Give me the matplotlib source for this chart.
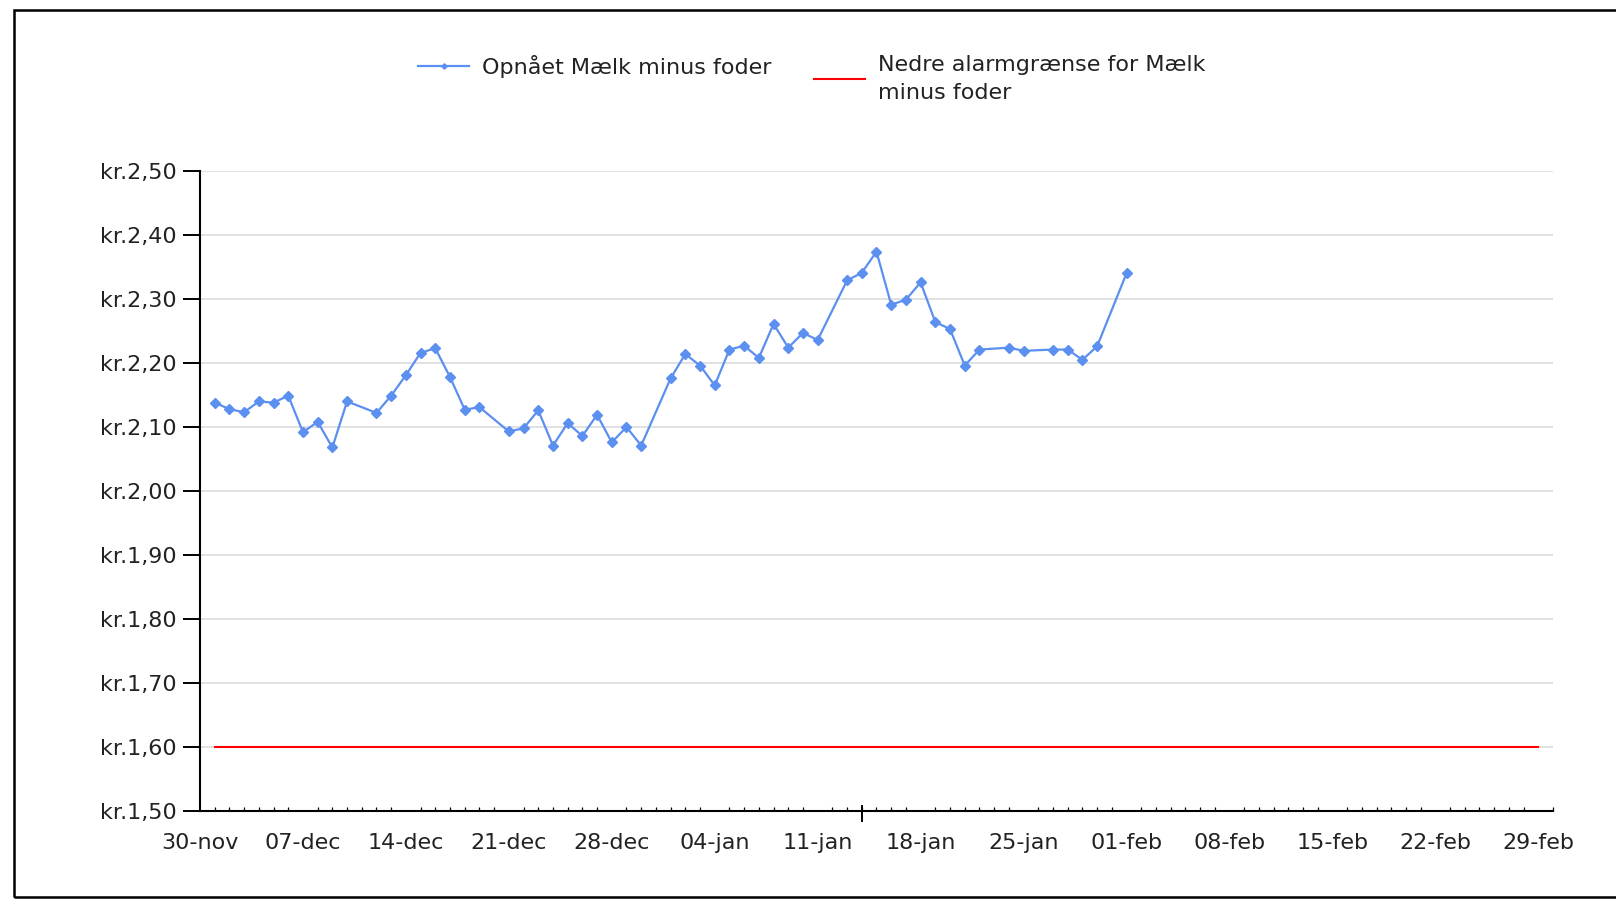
import numpy as np
import pandas as pd
import matplotlib
matplotlib.use("Agg")
import matplotlib.pyplot as plt
import matplotlib.dates as mdates
from matplotlib.patches import Rectangle
from matplotlib.ticker import FuncFormatter

# data
dates = ["2015-12-01", "2015-12-02", "2015-12-03", "2015-12-04", "2015-12-05", "2015-12-06",
         "2015-12-07", "2015-12-08", "2015-12-09", "2015-12-10", "2015-12-12", "2015-12-13",
         "2015-12-14", "2015-12-15", "2015-12-16", "2015-12-17", "2015-12-18", "2015-12-19",
         "2015-12-21", "2015-12-22", "2015-12-23", "2015-12-24", "2015-12-25", "2015-12-26",
         "2015-12-27", "2015-12-28", "2015-12-29", "2015-12-30", "2016-01-01", "2016-01-02",
         "2016-01-03", "2016-01-04", "2016-01-05", "2016-01-06", "2016-01-07", "2016-01-08",
         "2016-01-09", "2016-01-10", "2016-01-11", "2016-01-13", "2016-01-14", "2016-01-15",
         "2016-01-16", "2016-01-17", "2016-01-18", "2016-01-19", "2016-01-20", "2016-01-21",
         "2016-01-22", "2016-01-24", "2016-01-25", "2016-01-27", "2016-01-28", "2016-01-29",
         "2016-01-30", "2016-02-01"]
values = [2.138, 2.128, 2.123, 2.140, 2.138, 2.149,
          2.092, 2.108, 2.068, 2.140, 2.122, 2.149,
          2.181, 2.216, 2.223, 2.178, 2.127, 2.131,
          2.093, 2.098, 2.126, 2.071, 2.106, 2.086,
          2.119, 2.076, 2.100, 2.071, 2.176, 2.214,
          2.196, 2.165, 2.221, 2.227, 2.208, 2.261,
          2.224, 2.247, 2.236, 2.329, 2.341, 2.374,
          2.291, 2.299, 2.326, 2.264, 2.253, 2.196,
          2.221, 2.224, 2.219, 2.221, 2.221, 2.205,
          2.226, 2.340]

alarm_start = "2015-12-01"
alarm_end = "2016-02-29"
alarm_level = 1.60

x_start = "2015-11-30"
x_end = "2016-03-01"
week_labels = pd.date_range("2015-11-30", "2016-02-29", freq="7D")
big_tick = "2016-01-14"

series_label = "Opnået Mælk minus foder"
alarm_label = "Nedre alarmgrænse for Mælk\nminus foder"

txt = "#222222"
fs = 16
plt.rcParams['font.family'] = ['DejaVu Sans']

fig = plt.figure(figsize=(16.16, 9), dpi=100)
ax = fig.add_axes([200 / 1616, 1 - 811 / 900, (1553 - 200) / 1616, (811 - 171) / 900])

# frame around the whole picture (open to the right)
fig.patches.append(Rectangle((14 / 1616, 1 - 897 / 900), 1.2, (897 - 10) / 900,
                             transform=fig.transFigure, fill=False, edgecolor="black",
                             linewidth=1.8, clip_on=False))

xd = pd.to_datetime(dates)
l1, = ax.plot(xd, values, color="#5b8ff0", linewidth=1.6, marker="D", markersize=5.5,
              label=series_label, zorder=3)
l2, = ax.plot(pd.to_datetime([alarm_start, alarm_end]), [alarm_level, alarm_level],
              color="#ff0000", linewidth=1.5, label=alarm_label, zorder=2)

ax.set_xlim(pd.Timestamp(x_start), pd.Timestamp(x_end))
ax.set_ylim(1.5, 2.5)
ax.set_yticks(np.arange(1.5, 2.51, 0.1))
ax.yaxis.set_major_formatter(FuncFormatter(lambda v, p: "kr." + f"{v:.2f}".replace(".", ",")))
ax.grid(axis="y", color="#d9d9d9", linewidth=1.1, zorder=0)

ax.set_xticks(week_labels)
ax.set_xticklabels([d.strftime("%d-") + d.strftime("%b").lower() for d in week_labels])
ax.xaxis.set_minor_locator(mdates.DayLocator())
ax.tick_params(axis="x", which="major", length=0, pad=16, labelsize=fs, labelcolor=txt)
ax.tick_params(axis="x", which="minor", length=3, width=0.9, direction="in")
ax.tick_params(axis="y", which="major", length=12.5, width=1.4, direction="out",
               pad=4, labelsize=fs, labelcolor=txt)

# the single long tick on the date axis
ax.axvline(pd.Timestamp(big_tick), ymin=-0.016, ymax=0.008, color="black",
           linewidth=1.4, clip_on=False)

for s in ["top", "right"]:
    ax.spines[s].set_visible(False)
for s in ["left", "bottom"]:
    ax.spines[s].set_linewidth(1.5)

common = dict(loc="upper left", frameon=False, fontsize=fs, labelcolor=txt,
              handlelength=2.3, handletextpad=0.56, borderpad=0, borderaxespad=0,
              markerscale=0.5)
fig.legend([l1], [series_label], bbox_to_anchor=(418 / 1616, 1 - 55 / 900), **common)
leg2 = fig.legend([l2], [alarm_label], bbox_to_anchor=(814 / 1616, 1 - 55 / 900), **common)
for t in leg2.get_texts():
    t.set_linespacing(1.5)

fig.savefig("out.png", dpi=100)
